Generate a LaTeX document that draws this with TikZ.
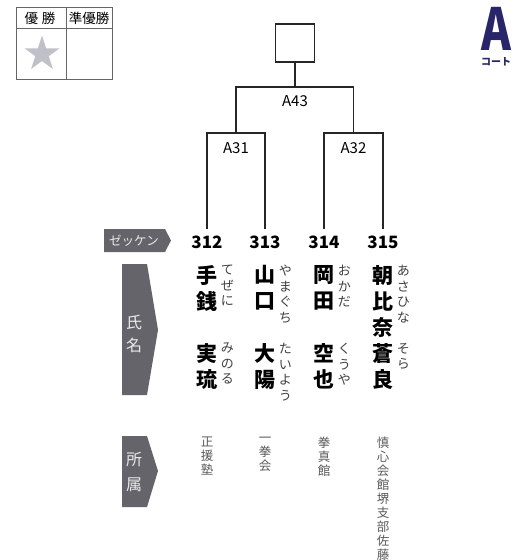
\documentclass[tikz,border=0pt]{standalone}
\usepackage{fontspec}
\setmainfont{Noto Sans CJK JP}
\usepackage{graphicx}
\usetikzlibrary{positioning, shapes.geometric}
\definecolor{courtnavy}{RGB}{40,38,104}
\definecolor{tabgray}{RGB}{100,100,106}
\definecolor{stargray}{RGB}{192,193,200}

\begin{document}
\begin{tikzpicture}[x=1pt, y=-1pt,
      line/.style={draw=black!85, line width=1.5pt},
      box/.style={draw=black!85, line width=1.5pt, minimum width=39pt, minimum height=38pt, inner sep=0pt},
      mlbl/.style={font=\fontsize{15}{15}\selectfont, inner sep=0pt},
      num/.style={font=\fontsize{17}{17}\selectfont\bfseries, inner sep=0pt, outer sep=7pt},
      kanji/.style={font=\fontsize{21}{26}\selectfont\bfseries, align=center, inner sep=0pt, anchor=north},
      kana/.style={font=\fontsize{13}{15.5}\selectfont, text=black!75, align=center, inner sep=0pt},
      dojo/.style={font=\fontsize{12.5}{14}\selectfont, text=black!65, align=center, inner sep=0pt, anchor=north},
      tabtxt/.style={text=white!92!black, align=center, inner sep=0pt},
      cell/.style={font=\fontsize{13.5}{13.5}\selectfont, inner sep=0pt},
    ]
    \useasboundingbox (0,0) rectangle (516,560);

    \draw[draw=black!60, line width=1pt] (16,7) rectangle (112,79);
    \draw[draw=black!60, line width=1pt] (16,28) -- (112,28);
    \draw[draw=black!60, line width=1pt] (66,7) -- (66,79);
    \node[cell] (champ) at (40,18) {優\hspace{4pt}勝};
    \node[cell] (runnerup) at (89,18) {準優勝};
    \node[star, star points=5, star point ratio=2.618, fill=stargray, minimum size=37pt, inner sep=0pt] (champstar) at (42,54) {};

    \node[inner sep=0pt, anchor=base, text=courtnavy, font=\fontsize{58}{58}\selectfont\bfseries] (court) at (496,50) {\scalebox{0.78}[1]{A}};
    \node[inner sep=0pt, text=courtnavy, font=\fontsize{10}{10}\selectfont\bfseries] (courtlbl) at (496,62) {コート};

    \node[box] (winner) at (295,43) {};
    \coordinate (a43) at (295,87);
    \coordinate (a31) at (236,133);
    \coordinate (a32) at (353.5,133);

    \node[num] (n312) at (207,242) {312};
    \node[num] (n313) at (265,242) {313};
    \node[num] (n314) at (324,242) {314};
    \node[num] (n315) at (383,242) {315};

    \draw[line] (winner.south) -- (a43);
    \draw[line] (a31) |- (a43) -| (a32);
    \draw[line] (n312.north) |- (a31) -| (n313.north);
    \draw[line] (n314.north) |- (a32) -| (n315.north);

    \node[mlbl, below=8pt of a43] (m43) {A43};
    \node[mlbl, below=9pt of a31] (m31) {A31};
    \node[mlbl, below=9pt of a32] (m32) {A32};

    \fill[tabgray] (104,229) -- (165,229) -- (171,240.5) -- (165,252) -- (104,252) -- cycle;
    \node[tabtxt, font=\fontsize{12.5}{12.5}\selectfont] (zekken) at (134,240.5) {ゼッケン};
    \fill[tabgray] (122,264) -- (147,264) -- (158,330) -- (147,395) -- (122,395) -- cycle;
    \node[tabtxt, font=\fontsize{16}{23}\selectfont] (shimei) at (134,334) {氏\\名};
    \fill[tabgray] (122,436) -- (147,436) -- (158,471) -- (147,507) -- (122,507) -- cycle;
    \node[tabtxt, font=\fontsize{16}{25}\selectfont] (shozoku) at (134,472) {所\\属};

    \node[kanji] (fam312) at (207,265) {手\\銭};
    \node[kanji] (giv312) at (207,343) {実\\琉};
    \node[kana, right=3pt of fam312.north east, anchor=north west] (kfam312) {て\\ぜ\\に};
    \node[kana, right=3pt of giv312.north east, anchor=north west] (kgiv312) {み\\の\\る};

    \node[kanji] (fam313) at (265,265) {山\\口};
    \node[kanji] (giv313) at (265,343) {大\\陽};
    \node[kana, right=3pt of fam313.north east, anchor=north west] (kfam313) {や\\ま\\ぐ\\ち};
    \node[kana, right=3pt of giv313.north east, anchor=north west] (kgiv313) {た\\い\\よ\\う};

    \node[kanji] (fam314) at (324,265) {岡\\田};
    \node[kanji] (giv314) at (324,343) {空\\也};
    \node[kana, right=3pt of fam314.north east, anchor=north west] (kfam314) {お\\か\\だ};
    \node[kana, right=3pt of giv314.north east, anchor=north west] (kgiv314) {く\\う\\や};

    \node[kanji] (fam315) at (383,265) {朝\\比\\奈};
    \node[kanji] (giv315) at (383,343) {蒼\\良};
    \node[kana, right=3pt of fam315.north east, anchor=north west] (kfam315) {あ\\さ\\ひ\\な};
    \node[kana, right=3pt of giv315.north east, anchor=north west] (kgiv315) {そ\\ら};

    \node[dojo] (d312) at (207,437) {正\\援\\塾};
    \node[dojo] (d313) at (265,437) {一\\拳\\会};
    \node[dojo] (d314) at (324,437) {拳\\真\\館};
    \node[dojo] (d315) at (383,437) {慎\\心\\会\\館\\堺\\支\\部\\佐\\藤\\道\\場};
  \end{tikzpicture}
\end{document}
